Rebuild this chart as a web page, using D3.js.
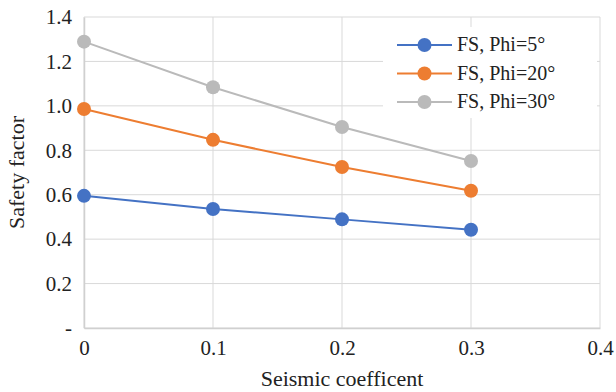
<!DOCTYPE html>
<html>
<head>
<meta charset="utf-8">
<script src="https://cdn.jsdelivr.net/npm/d3@7"></script>
<style>
  body { margin: 0; background: #fff; }
</style>
</head>
<body>
<svg id="chart"></svg>
<script>
// chart data
const xValues = [0, 0.1, 0.2, 0.3];
const phi5 = [0.595, 0.536, 0.489, 0.442];
const phi20 = [0.986, 0.847, 0.725, 0.618];
const phi30 = [1.289, 1.084, 0.905, 0.752];
const seriesNames = ['FS, Phi=5°', 'FS, Phi=20°', 'FS, Phi=30°'];
const xTicks = [0, 0.1, 0.2, 0.3, 0.4];
const yTicks = [0, 0.2, 0.4, 0.6, 0.8, 1.0, 1.2, 1.4];

const colors = ['#4472c4', '#ed7d31', '#bababa'];
const series = [phi5, phi20, phi30];
const font = '"Liberation Serif", "Times New Roman", serif';

const width = 616, height = 392;
const margin = { top: 17, right: 16, bottom: 64, left: 84 };
const w = width - margin.left - margin.right;
const h = height - margin.top - margin.bottom;

const svg = d3.select('#chart')
  .attr('width', width)
  .attr('height', height)
  .attr('font-family', font);

const g = svg.append('g')
  .attr('transform', `translate(${margin.left}, ${margin.top})`);

const xscale = d3.scaleLinear().domain([0, 0.4]).range([0, w]);
const yscale = d3.scaleLinear().domain([0, 1.4]).range([h, 0]);

// gridlines
g.append('g')
  .selectAll('line')
  .data(yTicks)
  .join('line')
  .attr('x1', 0).attr('x2', w)
  .attr('y1', d => yscale(d)).attr('y2', d => yscale(d))
  .attr('stroke', '#d9d9d9').attr('stroke-width', 1);
g.append('g')
  .selectAll('line')
  .data(xTicks)
  .join('line')
  .attr('x1', d => xscale(d)).attr('x2', d => xscale(d))
  .attr('y1', 0).attr('y2', h)
  .attr('stroke', '#d9d9d9').attr('stroke-width', 1);

// axes (labels only, Excel style)
const xaxis = g.append('g')
  .attr('transform', `translate(0, ${h})`)
  .call(d3.axisBottom(xscale).tickValues(xTicks).tickSize(0).tickPadding(12)
    .tickFormat(d => d === 0 ? '0' : d3.format('.1f')(d)));
xaxis.attr('font-family', font).attr('font-size', 21);
xaxis.select('.domain').attr('stroke', '#d0d0d0').attr('stroke-width', 1.5);
xaxis.selectAll('text').attr('fill', '#222');

const yaxis = g.append('g')
  .call(d3.axisLeft(yscale).tickValues(yTicks).tickSize(0).tickPadding(12)
    .tickFormat(d => d === 0 ? '-' : d3.format('.1f')(d)));
yaxis.attr('font-family', font).attr('font-size', 21);
yaxis.select('.domain').attr('stroke', '#d0d0d0').attr('stroke-width', 1.5);
yaxis.selectAll('text').attr('fill', '#222');

// lines and markers
const line = d3.line()
  .x((d, i) => xscale(xValues[i]))
  .y(d => yscale(d));

series.forEach((vals, s) => {
  g.append('path')
    .attr('fill', 'none')
    .attr('stroke', colors[s])
    .attr('stroke-width', 2)
    .attr('d', line(vals));
  g.append('g')
    .selectAll('circle')
    .data(vals)
    .join('circle')
    .attr('cx', (d, i) => xscale(xValues[i]))
    .attr('cy', d => yscale(d))
    .attr('r', 7)
    .attr('fill', colors[s]);
});

// axis titles
svg.append('text')
  .attr('x', margin.left + w / 2)
  .attr('y', 386)
  .attr('text-anchor', 'middle')
  .attr('font-size', 22)
  .attr('fill', '#222')
  .text('Seismic coefficent');

svg.append('text')
  .attr('transform', `translate(24, ${margin.top + h / 2}) rotate(-90)`)
  .attr('text-anchor', 'middle')
  .attr('font-size', 22)
  .attr('fill', '#222')
  .text('Safety factor');

// legend
const legend = svg.append('g').attr('transform', 'translate(383, 27)');
legend.append('rect')
  .attr('width', 214).attr('height', 91)
  .attr('fill', '#fff');
seriesNames.forEach((name, i) => {
  const ly = 18 + i * 28.5;
  legend.append('line')
    .attr('x1', 14).attr('x2', 69)
    .attr('y1', ly).attr('y2', ly)
    .attr('stroke', colors[i]).attr('stroke-width', 2);
  legend.append('circle')
    .attr('cx', 41.5).attr('cy', ly).attr('r', 7)
    .attr('fill', colors[i]);
  legend.append('text')
    .attr('x', 74).attr('y', ly + 6)
    .attr('font-size', 20)
    .attr('fill', '#222')
    .text(name);
});
</script>
</body>
</html>
